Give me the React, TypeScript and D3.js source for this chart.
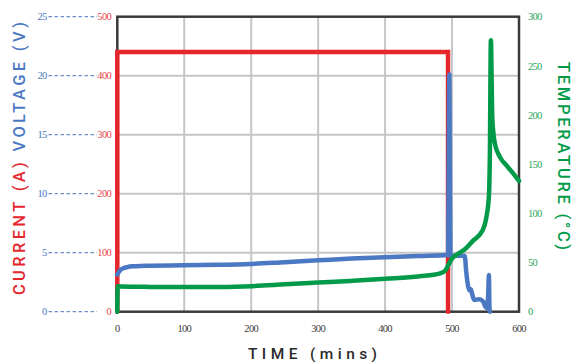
import React from "react";
import * as d3 from "d3";

// Current (A) vs time (mins)
const currentTime = [0, 0, 494, 494];
const currentAmps = [0, 440, 440, 0];

// Cell voltage (V) vs time (mins)
const voltageTime = [0, 4, 9, 15, 25, 45, 100, 150, 200, 250, 300, 350, 400, 450, 494, 496, 497.5, 519, 521, 526, 528, 530, 533, 540, 546, 550, 552, 554, 555, 556, 556.5];
const voltageVolts = [3.15, 3.5, 3.68, 3.78, 3.85, 3.9, 3.93, 3.97, 4.05, 4.2, 4.35, 4.5, 4.62, 4.72, 4.8, 20.1, 4.75, 4.72, 3.5, 1.8, 1.9, 1.5, 1.0, 1.05, 0.9, 0.4, 0.3, 1.5, 3.1, 0.2, 0];

// Temperature (°C) vs time (mins)
const tempTime = [0, 0.5, 5, 50, 100, 150, 200, 250, 300, 348, 400, 452, 482, 490, 494, 500, 507, 520, 531, 545, 551, 555, 556.5, 558, 560, 562, 564, 571, 581, 591, 600];
const tempDeg = [0, 26, 25.6, 25.2, 25, 25.2, 26, 27.8, 29.6, 31.3, 33.4, 36, 39, 42, 47, 54, 58, 64, 72, 82, 95, 117, 160, 276, 200, 180, 171, 158, 149, 141, 133];

const timeTicks = [0, 100, 200, 300, 400, 500, 600];
const currentTicks = [0, 100, 200, 300, 400, 500];
const voltageTicks = [0, 5, 10, 15, 20, 25];
const tempTicks = [0, 50, 100, 150, 200, 250, 300];

const W = 574;
const H = 363;
const left = 117.3;
const right = 519;
const top = 16.7;
const bottom = 311.7;

const RED = "#e5262d";
const BLUE = "#4a78c2";
const GREEN = "#009a49";

const tickFont = "'Liberation Serif', 'Times New Roman', serif";
const titleFont = "Roboto, 'DejaVu Sans', sans-serif";

export default function App() {
  const x = d3.scaleLinear().domain([0, 600]).range([left, right]);
  const yCur = d3.scaleLinear().domain([0, 500]).range([bottom, top]);
  const yVolt = d3.scaleLinear().domain([0, 25]).range([bottom, top]);
  const yTemp = d3.scaleLinear().domain([0, 300]).range([bottom, top]);

  const currentLine = d3
    .line<number>()
    .x((_, i) => x(currentTime[i]))
    .y((d) => yCur(d))
    .curve(d3.curveLinear)(currentAmps) as string;

  const voltageLine = d3
    .line<number>()
    .x((_, i) => x(voltageTime[i]))
    .y((d) => yVolt(d))
    .curve(d3.curveMonotoneX)(voltageVolts) as string;

  const tempLine = d3
    .line<number>()
    .x((_, i) => x(tempTime[i]))
    .y((d) => yTemp(d))
    .curve(d3.curveMonotoneX)(tempDeg) as string;

  return (
    <svg
      width={W}
      height={H}
      style={{ position: "absolute", left: 0, top: 0, background: "#fff" }}
    >
      {/* grid */}
      <g stroke="#c6c6ca" strokeWidth={2}>
        {timeTicks.slice(1, -1).map((t) => (
          <line key={"gx" + t} x1={x(t)} x2={x(t)} y1={top} y2={bottom} />
        ))}
        {currentTicks.slice(1, -1).map((c) => (
          <line key={"gy" + c} x1={left} x2={right} y1={yCur(c)} y2={yCur(c)} />
        ))}
      </g>

      {/* frame */}
      <rect
        x={left}
        y={top}
        width={right - left}
        height={bottom - top}
        fill="none"
        stroke="#3a3a3a"
        strokeWidth={2.5}
      />

      {/* left axes: voltage labels, dashed leaders, current labels */}
      <g fontFamily={tickFont} fontSize={10.5} letterSpacing={-0.7}>
        {voltageTicks.map((v) => (
          <g key={"v" + v}>
            <text x={46.5} y={yVolt(v)} dy="0.35em" textAnchor="end" fill={BLUE}>
              {v}
            </text>
            <line
              x1={48.5}
              x2={97}
              y1={yVolt(v)}
              y2={yVolt(v)}
              stroke={BLUE}
              strokeWidth={1}
              strokeDasharray="3.5,2.5"
            />
          </g>
        ))}
        {currentTicks.map((c) => (
          <text key={"c" + c} x={111} y={yCur(c)} dy="0.35em" textAnchor="end" fill="#ea4048">
            {c}
          </text>
        ))}
        {tempTicks.map((t) => (
          <text key={"t" + t} x={528} y={yTemp(t)} dy="0.35em" textAnchor="start" fill="#2aa65a">
            {t}
          </text>
        ))}
        {timeTicks.map((t) => (
          <text key={"x" + t} x={x(t)} y={328.5} dy="0.35em" textAnchor="middle" fill="#3a3a3a">
            {t}
          </text>
        ))}
      </g>

      {/* series */}
      <path d={currentLine} fill="none" stroke={RED} strokeWidth={4.5} strokeLinejoin="miter" strokeLinecap="round" />
      <path d={voltageLine} fill="none" stroke={BLUE} strokeWidth={4.5} strokeLinejoin="round" strokeLinecap="round" />
      <path d={tempLine} fill="none" stroke={GREEN} strokeWidth={4.5} strokeLinejoin="round" strokeLinecap="round" />

      {/* axis titles */}
      <text
        transform="translate(25,295) rotate(-90)"
        fontFamily={titleFont}
        fontWeight={500}
        fontSize={16.5}
        textLength={273}
        lengthAdjust="spacing"
      >
        <tspan fill={RED}>CURRENT (A) </tspan>
        <tspan fill={BLUE}>VOLTAGE (V)</tspan>
      </text>
      <text
        transform="translate(558,62) rotate(90)"
        fontFamily={titleFont}
        fontWeight={500}
        fontSize={16.5}
        fill={GREEN}
        textLength={188}
        lengthAdjust="spacing"
      >
        TEMPERATURE (°C)
      </text>
      <text
        x={248}
        y={358.5}
        fontFamily={titleFont}
        fontWeight={500}
        fontSize={15.5}
        fill="#2a2a2a"
        textLength={129}
        lengthAdjust="spacing"
      >
        TIME (mins)
      </text>
    </svg>
  );
}
